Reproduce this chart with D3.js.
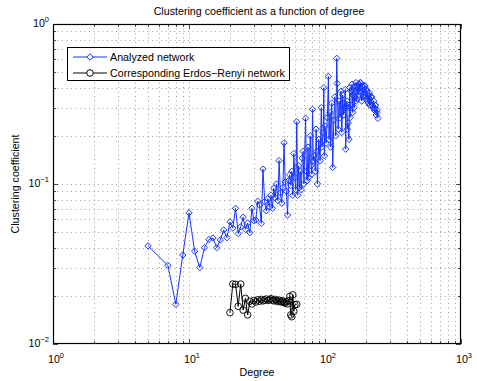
<!DOCTYPE html>
<html><head><meta charset="utf-8">
<script src="https://cdn.jsdelivr.net/npm/d3@7"></script>
<style>body{margin:0;background:#fff}svg{display:block}text{font-family:"Liberation Sans",Arial,sans-serif;fill:#000}</style>
</head><body><svg id="c" width="477" height="381"></svg>
<script>
const analyzedDegree = [5,7,8,9,10,11,12,13,14,15,16,17,18,19,20,21,22,23,24,25,26,27,28,29,30,31,32,33,34,35,36,37,38,39,40,41,42,43,44,45,46,47,48,49,50,51,52,53,54,55,56,57,58,59,60,61,62,63,64,65,66,67,68,69,70,72,73,74,75,76,78,79,80,81,82,83,85,86,87,88,90,92,94,95,97,98,99,100,102,104,106,107,109,110,112,114,116,118,120,122,123,125,127,129,131,133,135,137,139,141,142,143,145,146,148,150,151,152,153,155,156,158,160,161,163,164,166,167,169,170,172,173,175,176,178,180,181,183,184,186,188,190,191,193,195,197,199,200,202,204,206,208,210,212,214,216,218,220,222,225,228,230,232,234,236,238,240,242,245];
const analyzedCC = [.041,.031,.0177,.036,.066,.038,.030,.040,.045,.046,.040,.0447,.0516,.0462,.058,.053,.0705,.049,.054,.062,.052,.057,.0496,.0705,.059,.0596,.078,.074,.0568,.124,.0776,.068,.081,.072,.085,.0705,.094,.082,.100,.079,.14,.088,.076,.095,.181,.103,.090,.064,.105,.114,.098,.12,.085,.155,.11,.092,.245,.085,.13,.095,.12,.092,.145,.16,.10,.257,.12,.105,.17,.11,.20,.13,.115,.293,.14,.15,.12,.22,.16,.10,.19,.14,.30,.17,.21,.40,.15,.23,.18,.26,.47,.19,.28,.17,.32,.127,.25,.35,.20,.61,.425,.22,.33,.26,.38,.21,.36,.27,.30,.39,.165,.30,.33,.22,.24,.19,.30,.40,.26,.31,.38,.42,.28,.36,.40,.30,.35,.41,.43,.33,.34,.40,.41,.36,.42,.38,.43,.43,.37,.33,.41,.40,.35,.36,.41,.41,.35,.34,.39,.38,.33,.32,.36,.37,.31,.33,.35,.35,.31,.30,.33,.29,.297,.31,.31,.27,.28,.29,.257];
const erDegree = [20,21,22,23,24,25,26,27,28,29,30,31,32,33,34,35,36,37,38,39,40,41,42,43,44,45,46,47,48,49,50,51,52,53,54,55,56,57,58,59,60,62];
const erCC = [.0157,.0237,.0236,.0172,.0237,.0163,.0193,.0152,.0185,.0178,.0187,.0183,.0189,.0185,.0190,.0186,.0188,.0191,.0187,.0189,.0192,.0188,.0186,.0190,.0187,.0184,.0188,.0185,.0183,.0186,.0182,.0180,.0184,.0178,.0186,.0198,.0152,.0148,.0203,.0160,.0176,.0177];
const xTickExps = [0,1,2,3];
const yTickExps = [0,-1,-2];
const titleText = "Clustering coefficient as a function of degree";
const xLabel = "Degree", yLabel = "Clustering coefficient";
const legendLabels = ["Analyzed network","Corresponding Erdos\u2212Renyi network"];

const svg = d3.select("#c");
const L=53,R=461,T=24,B=344;
const FS=10.7;
const x = d3.scaleLog().domain([1,1000]).range([L,R]);
const y = d3.scaleLog().domain([0.01,1]).range([B,T]);
const blue="#1434ff";

svg.append("rect").attr("x",L).attr("y",T).attr("width",R-L).attr("height",B-T).attr("fill","#fff");

const xg=[],yg=[];
for(let e=0;e<3;e++)for(let m=1;m<=9;m++){xg.push(m*10**e);}
xg.push(1000);
for(let e=-2;e<0;e++)for(let m=1;m<=9;m++){yg.push(m*10**e);}
yg.push(1);
const grid=svg.append("g").attr("stroke","#777").attr("stroke-width",0.7).attr("stroke-dasharray","1,3.5");
grid.selectAll(".gx").data(xg.filter(v=>v>1&&v<1000)).join("line").attr("x1",d=>Math.round(x(d))+0.5).attr("x2",d=>Math.round(x(d))+0.5).attr("y1",T).attr("y2",B);
grid.selectAll(".gy").data(yg.filter(v=>v>0.01&&v<1)).join("line").attr("y1",d=>Math.round(y(d))+0.5).attr("y2",d=>Math.round(y(d))+0.5).attr("x1",L).attr("x2",R);

const tk=svg.append("g").attr("stroke","#000").attr("stroke-width",0.7);
xg.forEach(v=>{const major=Number.isInteger(Math.log10(v)); const len=major?5:3; const px=Math.round(x(v))+0.5;
  tk.append("line").attr("x1",px).attr("x2",px).attr("y1",B).attr("y2",B-len);
  tk.append("line").attr("x1",px).attr("x2",px).attr("y1",T).attr("y2",T+len);});
yg.forEach(v=>{const major=Math.abs(Math.log10(v)-Math.round(Math.log10(v)))<1e-9; const len=major?5:3; const py=Math.round(y(v))+0.5;
  tk.append("line").attr("y1",py).attr("y2",py).attr("x1",L).attr("x2",L+len);
  tk.append("line").attr("y1",py).attr("y2",py).attr("x1",R).attr("x2",R-len);});

const line=d3.line().x(d=>x(d[0])).y(d=>y(d[1]));
const blueData=analyzedDegree.map((d,i)=>[d,analyzedCC[i]]);
const erData=erDegree.map((d,i)=>[d,erCC[i]]);
svg.append("path").datum(blueData).attr("d",line).attr("fill","none").attr("stroke",blue).attr("stroke-width",1);
const dia=d3.symbol().type(d3.symbolDiamond2).size(26);
svg.append("g").selectAll("path").data(blueData).join("path").attr("d",dia).attr("transform",d=>`translate(${x(d[0])},${y(d[1])})`).attr("fill","none").attr("stroke",blue).attr("stroke-width",1);
svg.append("path").datum(erData).attr("d",line).attr("fill","none").attr("stroke","#000").attr("stroke-width",1);
svg.append("g").selectAll("circle").data(erData).join("circle").attr("cx",d=>x(d[0])).attr("cy",d=>y(d[1])).attr("r",3.3).attr("fill","none").attr("stroke","#000").attr("stroke-width",0.9);

svg.append("rect").attr("x",L+0.5).attr("y",T+0.5).attr("width",R-L-1).attr("height",B-T-1).attr("fill","none").attr("stroke","#000").attr("stroke-width",1.2);

function pow(g,exp,xx,yy,anchor){
  const t=g.append("text").attr("x",xx).attr("y",yy).attr("text-anchor",anchor).attr("font-size",FS);
  t.append("tspan").text("10");
  t.append("tspan").attr("font-size",7.5).attr("dy",-5).text(exp<0?"\u2212"+(-exp):exp);
}
const lab=svg.append("g");
xTickExps.forEach(e=>pow(lab,e,x(10**e)+3,B+19,"middle"));
yTickExps.forEach(e=>pow(lab,e,L-4,y(10**e)+3,"end"));

svg.append("text").attr("x",(L+R)/2+2).attr("y",15).attr("text-anchor","middle").attr("font-size",FS).text(titleText);
svg.append("text").attr("x",(L+R)/2).attr("y",376).attr("text-anchor","middle").attr("font-size",FS).text(xLabel);
svg.append("text").attr("transform",`translate(19,${(T+B)/2}) rotate(-90)`).attr("text-anchor","middle").attr("font-size",FS).text(yLabel);

const lg=svg.append("g");
lg.append("rect").attr("x",67.5).attr("y",47.5).attr("width",222).attr("height",33).attr("fill","#fff").attr("stroke","#000").attr("stroke-width",1);
const ly=[57,73];
lg.append("line").attr("x1",73).attr("x2",107).attr("y1",ly[0]).attr("y2",ly[0]).attr("stroke",blue);
lg.append("path").attr("d",dia).attr("transform",`translate(90,${ly[0]})`).attr("fill","#fff").attr("stroke",blue);
lg.append("line").attr("x1",73).attr("x2",107).attr("y1",ly[1]).attr("y2",ly[1]).attr("stroke","#000");
lg.append("circle").attr("cx",90).attr("cy",ly[1]).attr("r",3.3).attr("fill","#fff").attr("stroke","#000");
legendLabels.forEach((t,i)=>lg.append("text").attr("x",110).attr("y",ly[i]+4).attr("font-size",FS).text(t));
</script></body></html>
